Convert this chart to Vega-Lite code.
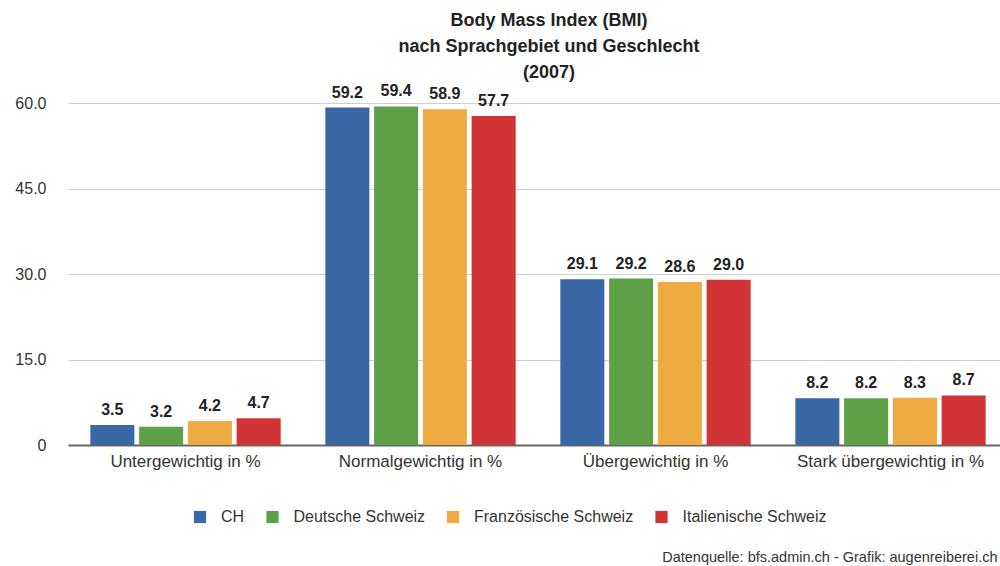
{
  "$schema": "https://vega.github.io/schema/vega-lite/v6.json",
  "width": 932,
  "height": 342,
  "autosize": {"type": "none"},
  "padding": {"left": 68, "top": 103, "right": 0, "bottom": 121},
  "background": "white",
  "title": {
    "text": ["Body Mass Index (BMI)", "nach Sprachgebiet und Geschlecht", "(2007)"],
    "anchor": "middle",
    "frame": "group",
    "dx": 15,
    "offset": 1,
    "font": "Liberation Sans",
    "fontSize": 18,
    "fontWeight": "bold",
    "color": "#222222",
    "lineHeight": 26
  },
  "config": {
    "view": {"stroke": null},
    "font": "Liberation Sans"
  },
  "data": {
    "values": [
      {"kategorie": "Untergewichtig in %", "region": "CH", "wert": 3.5},
      {"kategorie": "Untergewichtig in %", "region": "Deutsche Schweiz", "wert": 3.2},
      {"kategorie": "Untergewichtig in %", "region": "Französische Schweiz", "wert": 4.2},
      {"kategorie": "Untergewichtig in %", "region": "Italienische Schweiz", "wert": 4.7},
      {"kategorie": "Normalgewichtig in %", "region": "CH", "wert": 59.2},
      {"kategorie": "Normalgewichtig in %", "region": "Deutsche Schweiz", "wert": 59.4},
      {"kategorie": "Normalgewichtig in %", "region": "Französische Schweiz", "wert": 58.9},
      {"kategorie": "Normalgewichtig in %", "region": "Italienische Schweiz", "wert": 57.7},
      {"kategorie": "Übergewichtig in %", "region": "CH", "wert": 29.1},
      {"kategorie": "Übergewichtig in %", "region": "Deutsche Schweiz", "wert": 29.2},
      {"kategorie": "Übergewichtig in %", "region": "Französische Schweiz", "wert": 28.6},
      {"kategorie": "Übergewichtig in %", "region": "Italienische Schweiz", "wert": 29.0},
      {"kategorie": "Stark übergewichtig in %", "region": "CH", "wert": 8.2},
      {"kategorie": "Stark übergewichtig in %", "region": "Deutsche Schweiz", "wert": 8.2},
      {"kategorie": "Stark übergewichtig in %", "region": "Französische Schweiz", "wert": 8.3},
      {"kategorie": "Stark übergewichtig in %", "region": "Italienische Schweiz", "wert": 8.7}
    ]
  },
  "encoding": {
    "x": {
      "field": "kategorie",
      "type": "nominal",
      "sort": null,
      "scale": {"range": [0, 940], "paddingInner": 0.19, "paddingOuter": 0.095},
      "axis": {
        "title": "Datenquelle: bfs.admin.ch - Grafik: augenreiberei.ch",
        "titleFont": "Liberation Sans",
        "titleFontSize": 14.5,
        "titleFontWeight": "normal",
        "titleColor": "#333333",
        "titleAnchor": "end",
        "titleAlign": "right",
        "titleBaseline": "middle",
        "titleX": 929,
        "titleY": 112,
        "labelAngle": 0,
        "labelFontSize": 17,
        "labelColor": "#333333",
        "labelPadding": 8,
        "labelLimit": 400,
        "ticks": false,
        "domainColor": "#666666",
        "domainWidth": 2
      }
    },
    "xOffset": {
      "field": "region",
      "type": "nominal",
      "scale": {"paddingInner": 0.097, "paddingOuter": 0}
    },
    "y": {
      "field": "wert",
      "type": "quantitative",
      "scale": {"domain": [0, 60], "nice": false},
      "axis": {
        "title": null,
        "values": [0, 15, 30, 45, 60],
        "labelExpr": "datum.value == 0 ? '0' : format(datum.value, '.1f')",
        "labelFontSize": 16,
        "labelColor": "#333333",
        "labelPadding": 22,
        "ticks": false,
        "domain": false,
        "gridColor": "#cfcfcf",
        "gridWidth": 1.2
      }
    }
  },
  "layer": [
    {
      "mark": {"type": "bar"},
      "encoding": {
        "color": {
          "field": "region",
          "type": "nominal",
          "scale": {
            "domain": ["CH", "Deutsche Schweiz", "Französische Schweiz", "Italienische Schweiz"],
            "range": ["#3a68a6", "#5ea048", "#eeab42", "#d03434"]
          },
          "legend": {
            "title": null,
            "orient": "none",
            "direction": "horizontal",
            "legendX": 124,
            "legendY": 406,
            "symbolType": "square",
            "symbolSize": 150,
            "symbolStrokeWidth": 0,
            "labelFontSize": 16,
            "labelColor": "#333333",
            "columnPadding": 19.5,
            "labelOffset": 13
          }
        }
      }
    },
    {
      "mark": {
        "type": "text",
        "dy": -7,
        "baseline": "bottom",
        "fontSize": 16,
        "fontWeight": "bold",
        "color": "#222222"
      },
      "encoding": {
        "text": {"field": "wert", "type": "quantitative", "format": ".1f"}
      }
    }
  ]
}
